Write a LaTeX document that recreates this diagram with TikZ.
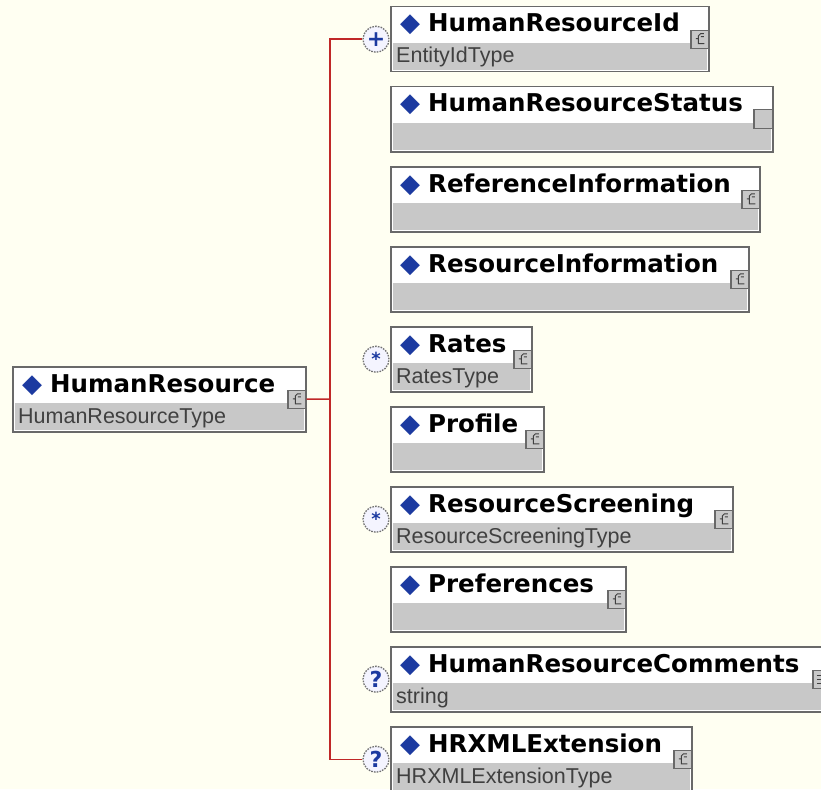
\documentclass[tikz,border=0pt]{standalone}
\usepackage{fontspec}
\usepackage{xcolor}
\usepackage{tikz}

\newfontfamily\titlefont{DejaVu Sans}
\newfontfamily\gemfont{DejaVu Sans}
\newfontfamily\typefont{Liberation Sans}

\definecolor{paper}{RGB}{255,255,242}
\definecolor{boxline}{RGB}{105,105,105}
\definecolor{typegray}{RGB}{200,200,200}
\definecolor{typetext}{RGB}{64,64,64}
\definecolor{gemblue}{RGB}{28,58,160}
\definecolor{seqred}{RGB}{192,40,40}
\definecolor{cardfill}{RGB}{244,244,255}

\begin{document}
\begin{tikzpicture}[x=1pt, y=-1pt,
    elem/.style={draw=boxline, line width=1.5pt, fill=white, minimum height=65pt, inner sep=0pt, anchor=north west,
        path picture={\fill[typegray] ([shift={(2pt,-36pt)}]path picture bounding box.north west) rectangle ([shift={(-2pt,2pt)}]path picture bounding box.south east);}},
    eltitle/.style={anchor=base west, inner sep=0pt, font=\titlefont\bfseries\fontsize{24.5}{28}\selectfont,
        execute at begin node={\makebox[28pt][l]{\gemfont\mdseries\fontsize{26}{26}\selectfont\textcolor{gemblue}{◆}}}},
    eltype/.style={anchor=base west, inner sep=0pt, text=typetext, font=\typefont\fontsize{21.5}{24}\selectfont},
    sticon/.style={draw=boxline, fill=typegray, line width=1.1pt, minimum size=18pt, inner sep=0pt, anchor=east},
    cxicon/.style={sticon, path picture={\draw[line width=1pt, black!75]
        ([shift={(4pt,5.5pt)}]path picture bounding box.center) -- ++(-3.5pt,0) -- ++(-2pt,-2pt) -- ++(0,-8pt) -- ++(6pt,0)
        ++(-8.5pt,5pt) -- ++(2.5pt,0) ++(2.5pt,2pt) -- ++(3pt,0);}},
    lsticon/.style={sticon, path picture={\draw[line width=1pt, black!75]
        ([shift={(-5pt,4pt)}]path picture bounding box.center) -- ++(10pt,0) ++(-10pt,-4pt) -- ++(10pt,0) ++(-10pt,-4pt) -- ++(10pt,0);}},
    card/.style={circle, draw=black!55, dash pattern=on 1.6pt off 1.2pt, line width=1.3pt, fill=cardfill, minimum size=26pt,
        inner sep=0pt, text=gemblue, font=\titlefont\bfseries\fontsize{22}{22}\selectfont},
    seq/.style={draw=seqred, line width=1.5pt}]

    % Background and frame
    \fill[paper] (0,0) rectangle (821,789);
    \useasboundingbox (0,0) rectangle (821,789);
    \clip (0,0) rectangle (821,789);

    % Parent element
    \node[elem, minimum width=293pt] (hr) at (12,366) {};
    \node[eltitle] (hr-t) at ([shift={(10pt,-26pt)}]hr.north west) {HumanResource};
    \node[eltype] (hr-y) at ([shift={(6pt,-57pt)}]hr.north west) {HumanResourceType};
    \node[cxicon] (hr-i) at (hr.east) {};

    % Child elements of the sequence
    \node[elem, minimum width=318pt] (hrid) at (390,6) {};
    \node[eltitle] (hrid-t) at ([shift={(10pt,-26pt)}]hrid.north west) {HumanResourceId};
    \node[eltype] (hrid-y) at ([shift={(6pt,-57pt)}]hrid.north west) {EntityIdType};
    \node[cxicon] (hrid-i) at (hrid.east) {};

    \node[elem, minimum width=382pt] (status) at (390,86) {};
    \node[eltitle] (status-t) at ([shift={(10pt,-26pt)}]status.north west) {HumanResourceStatus};
    \node[sticon, minimum size=19pt] (status-i) at (status.east) {};

    \node[elem, minimum width=369pt] (refinfo) at (390,166) {};
    \node[eltitle] (refinfo-t) at ([shift={(10pt,-26pt)}]refinfo.north west) {ReferenceInformation};
    \node[cxicon] (refinfo-i) at (refinfo.east) {};

    \node[elem, minimum width=358pt] (resinfo) at (390,246) {};
    \node[eltitle] (resinfo-t) at ([shift={(10pt,-26pt)}]resinfo.north west) {ResourceInformation};
    \node[cxicon] (resinfo-i) at (resinfo.east) {};

    \node[elem, minimum width=141pt] (rates) at (390,326) {};
    \node[eltitle] (rates-t) at ([shift={(10pt,-26pt)}]rates.north west) {Rates};
    \node[eltype] (rates-y) at ([shift={(6pt,-57pt)}]rates.north west) {RatesType};
    \node[cxicon] (rates-i) at (rates.east) {};

    \node[elem, minimum width=153pt] (profile) at (390,406) {};
    \node[eltitle] (profile-t) at ([shift={(10pt,-26pt)}]profile.north west) {Profile};
    \node[cxicon] (profile-i) at (profile.east) {};

    \node[elem, minimum width=342pt] (screen) at (390,486) {};
    \node[eltitle] (screen-t) at ([shift={(10pt,-26pt)}]screen.north west) {ResourceScreening};
    \node[eltype] (screen-y) at ([shift={(6pt,-57pt)}]screen.north west) {ResourceScreeningType};
    \node[cxicon] (screen-i) at (screen.east) {};

    \node[elem, minimum width=235pt] (prefs) at (390,566) {};
    \node[eltitle] (prefs-t) at ([shift={(10pt,-26pt)}]prefs.north west) {Preferences};
    \node[cxicon] (prefs-i) at (prefs.east) {};

    \node[elem, minimum width=440pt] (comments) at (390,646) {};
    \node[eltitle] (comments-t) at ([shift={(10pt,-26pt)}]comments.north west) {HumanResourceComments};
    \node[eltype] (comments-y) at ([shift={(6pt,-57pt)}]comments.north west) {string};
    \node[lsticon] (comments-i) at (comments.east) {};

    \node[elem, minimum width=301pt] (hrx) at (390,726) {};
    \node[eltitle] (hrx-t) at ([shift={(10pt,-26pt)}]hrx.north west) {HRXMLExtension};
    \node[eltype] (hrx-y) at ([shift={(6pt,-57pt)}]hrx.north west) {HRXMLExtensionType};
    \node[cxicon] (hrx-i) at (hrx.east) {};

    % Occurrence markers
    \node[card] (hrid-c) at ([xshift=-14pt]hrid.west) {+};
    \node[card, font=\titlefont\bfseries\fontsize{18}{18}\selectfont] (rates-c) at ([xshift=-14pt]rates.west) {*};
    \node[card, font=\titlefont\bfseries\fontsize{18}{18}\selectfont] (screen-c) at ([xshift=-14pt]screen.west) {*};
    \node[card] (comments-c) at ([xshift=-14pt]comments.west) {?};
    \node[card] (hrx-c) at ([xshift=-14pt]hrx.west) {?};

    % Sequence connector
    \coordinate (spine) at (330,399);
    \draw[seq] (hr-i.east) -- (spine);
    \draw[seq] (hrid-c.west) -| (spine) |- (hrx-c.west);
\end{tikzpicture}
\end{document}
